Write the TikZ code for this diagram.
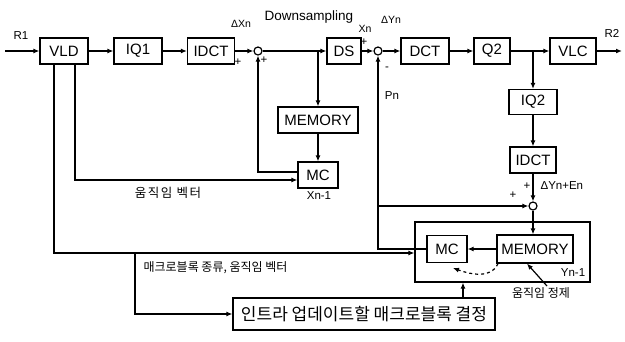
\documentclass[tikz,border=0pt]{standalone}
\usepackage{fontspec}
\setmainfont{Liberation Sans}
\newfontfamily\kr{Noto Sans CJK KR}
\newfontfamily\krwide[LetterSpace=12]{Noto Sans CJK KR}
\usetikzlibrary{arrows.meta}
\begin{document}
\begin{tikzpicture}[x=1pt,y=-1pt,line width=1.2pt,
  blk/.style={draw, minimum height=26pt, inner sep=0pt, font=\fontsize{15}{15}\selectfont},
  sumc/.style={circle, draw, minimum size=8pt, inner sep=0pt},
  arr/.style={-{Latex[length=6pt,width=5pt]}},
  lbl/.style={inner sep=0pt, font=\fontsize{11.5}{11.5}\selectfont},
  klbl/.style={inner sep=0pt, font=\kr\fontsize{12}{12}\selectfont}]
\useasboundingbox (0,0) rectangle (625,341);
% main row
\node[blk, minimum width=48pt] (vld) at (64,51) {VLD};
\node[blk, minimum width=48pt] (iq1) at (138,51) {IQ1};
\node[blk, minimum width=47pt] (idct1) at (211,51) {IDCT};
\node[sumc] (s1) at (258,51) {};
\node[blk, minimum width=34pt] (ds) at (344,51) {DS};
\node[sumc] (s2) at (378,51) {};
\node[blk, minimum width=48pt] (dct) at (425,51) {DCT};
\node[blk, minimum width=36pt] (q2) at (492,51) {Q2};
\node[blk, minimum width=46pt] (vlc) at (573,51) {VLC};
% left loop
\node[blk, minimum width=80pt] (mem1) at (318,120) {MEMORY};
\node[blk, minimum width=40pt] (mc1) at (318,175) {MC};
% right column
\node[blk, minimum width=48pt, minimum height=25pt] (iq2) at (533,102) {IQ2};
\node[blk, minimum width=46pt] (idct2) at (533,160) {IDCT};
\node[sumc] (s3) at (533,206) {};
% big box
\node[draw, minimum width=175pt, minimum height=60pt, inner sep=0pt] (big) at (502.5,252) {};
\node[blk, minimum width=40pt, minimum height=27pt] (mc2) at (447,249) {MC};
\node[blk, minimum width=76pt, minimum height=28pt] (mem2) at (535,249) {MEMORY};
% bottom box
\node[blk, minimum width=262pt, minimum height=32pt, font=\kr\fontsize{17}{17}\selectfont] (intra) at (364,314) {인트라 업데이트할 매크로블록 결정};

% coordinates
\coordinate (r1) at (5,51);
\coordinate (r2) at (622,51);
\coordinate (b1) at (318,51);
\coordinate (b3) at (533,51);
\coordinate (b2) at (135,253);
\coordinate (dt) at (453,268);
\coordinate (rf) at (547,286);

% main row connectors
\draw[arr] (r1) -- (vld);
\draw[arr] (vld) -- (iq1);
\draw[arr] (iq1) -- (idct1);
\draw[arr] (idct1) -- (s1);
\draw[arr] (s1) -- (ds);
\draw[arr] (ds) -- (s2);
\draw[arr] (s2) -- (dct);
\draw[arr] (dct) -- (q2);
\draw[arr] (q2) -- (vlc);
\draw[arr] (vlc) -- (r2);
% branches
\draw[arr] (b1) -- (mem1);
\draw[arr] (mem1) -- (mc1);
\draw[arr] ([yshift=3pt]mc1.west) -| (s1);
\draw[arr] ([xshift=11pt]vld.south) |- ([yshift=-5pt]mc1.west);
\draw[arr] ([xshift=-10pt]vld.south) |- ([yshift=-1pt]big.west);
\draw[arr] (b2) |- (intra.west);
\draw[arr] (b3) -- (iq2);
\draw[arr] (iq2) -- (idct2);
\draw[arr] (idct2) -- (s3);
\draw[arr] (s3) -- (s3 |- mem2.north);
\draw[arr] (mem2) -- (mc2);
\draw[arr] (mc2.west) -| (s2);
\draw[arr] (s2 |- s3) -- (s3);
\draw[arr] ([xshift=99pt]intra.north) -- ([xshift=99pt]intra.north |- big.south);
\draw[arr, dashed] ([xshift=-37pt]mem2.south) to[out=-115, in=-20] (dt);
\draw[arr] (rf) -- ([xshift=-8pt]mem2.south);

% labels
\node[lbl] (tR1) at (21,36) {R1};
\node[lbl] (tR2) at (612,33) {R2};
\node[lbl, font=\fontsize{10.5}{10.5}\selectfont] (tdx) at (241,24) {ΔXn};
\node[lbl, font=\fontsize{13.5}{13.5}\selectfont] (tds) at (309,17) {Downsampling};
\node[lbl, font=\fontsize{10.5}{10.5}\selectfont] (txn) at (365,29) {Xn};
\node[lbl, font=\fontsize{10.5}{10.5}\selectfont] (tdy) at (391,20) {ΔYn};
\node[lbl] (tp1) at (238,62) {+};
\node[lbl] (tp2) at (264,60) {+};
\node[lbl] (tp3) at (364,42) {+};
\node[lbl] (tm1) at (387,69) {-};
\node[lbl] (tpn) at (392,96) {Pn};
\node[klbl, font=\krwide\fontsize{12.5}{12.5}\selectfont] (tmv) at (168,193) {움직임 벡터};
\node[lbl] (txn1) at (319,196) {Xn-1};
\node[klbl, anchor=west] (tmb) at (143,268) {매크로블록 종류, 움직임 벡터};
\node[lbl] (tp4) at (527,186) {+};
\node[lbl, anchor=west] (tdye) at (540,186) {ΔYn+En};
\node[lbl] (tp5) at (513,195) {+};
\node[lbl] (tyn1) at (573,273) {Yn-1};
\node[klbl] (tref) at (541,293) {움직임 정제};
\end{tikzpicture}
\end{document}
